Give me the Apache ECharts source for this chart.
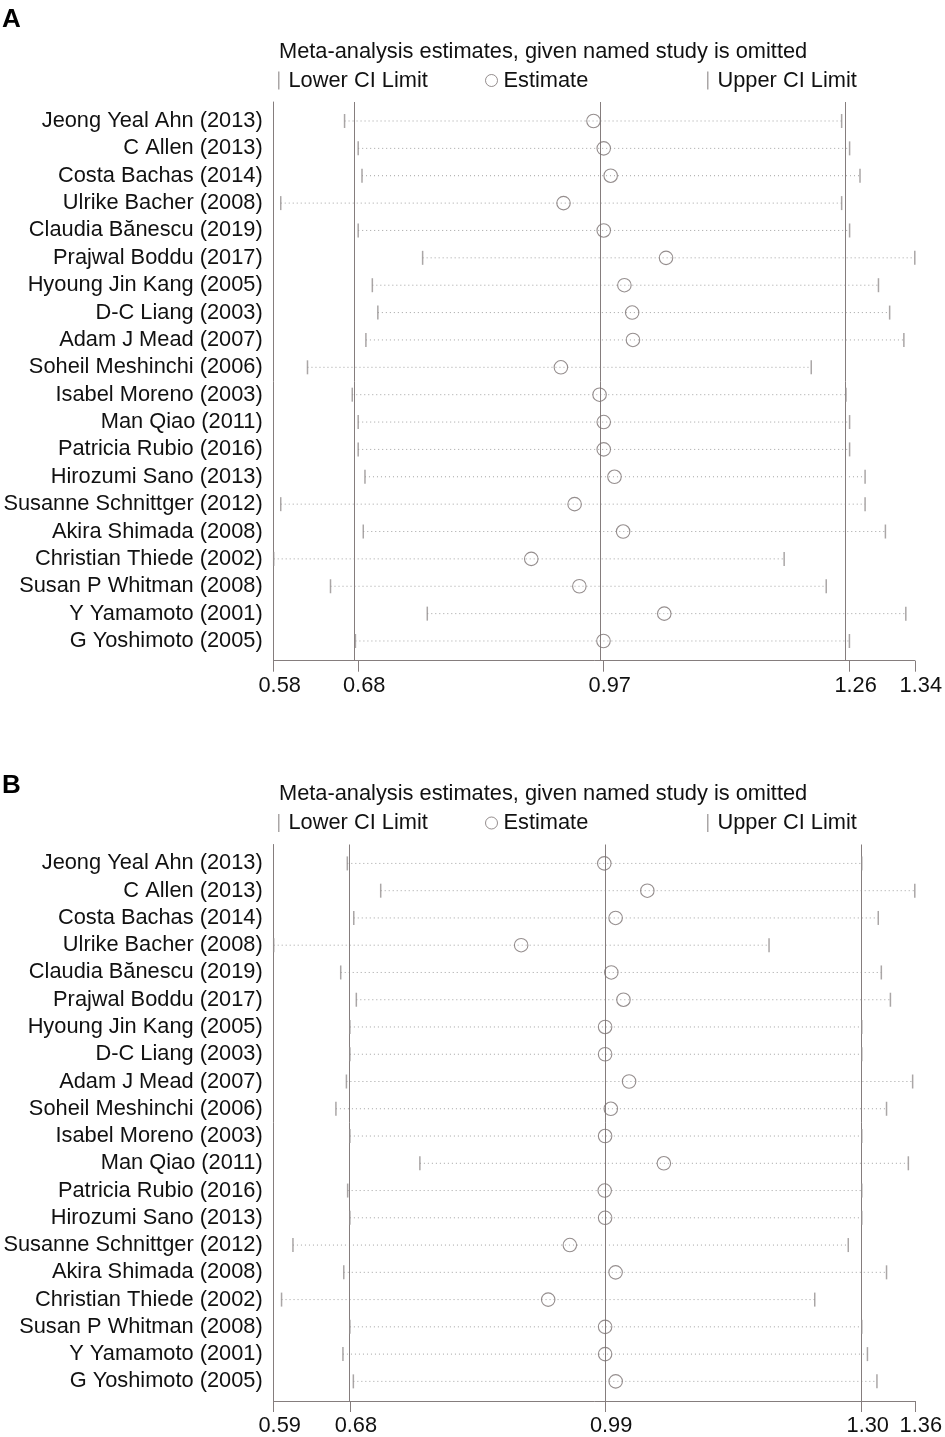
<!DOCTYPE html>
<html>
<head>
<meta charset="utf-8">
<script src="https://cdn.jsdelivr.net/npm/echarts@6/dist/echarts.min.js"></script>
<style>
html,body{margin:0;padding:0;background:#fff;}
#chart{width:945px;height:1437px;}
</style>
</head>
<body>
<div id="chart"></div>
<script>
const studies = [
  'Jeong Yeal Ahn (2013)', 'C Allen (2013)', 'Costa Bachas (2014)', 'Ulrike Bacher (2008)',
  'Claudia Bănescu (2019)', 'Prajwal Boddu (2017)', 'Hyoung Jin Kang (2005)', 'D-C Liang (2003)',
  'Adam J Mead (2007)', 'Soheil Meshinchi (2006)', 'Isabel Moreno (2003)', 'Man Qiao (2011)',
  'Patricia Rubio (2016)', 'Hirozumi Sano (2013)', 'Susanne Schnittger (2012)', 'Akira Shimada (2008)',
  'Christian Thiede (2002)', 'Susan P Whitman (2008)', 'Y Yamamoto (2001)', 'G Yoshimoto (2005)'
];

// Panel A: axis ticks = [min lower CI, pooled lower CI, pooled estimate, pooled upper CI, max upper CI]
const ticksA = [0.5847, 0.6845, 0.9745, 1.2649, 1.3419];
const lowerA = [0.6684, 0.6845, 0.6890, 0.5930, 0.6845, 0.7606, 0.7012, 0.7077, 0.6936, 0.6246,
                0.6775, 0.6845, 0.6845, 0.6925, 0.5930, 0.6905, 0.5847, 0.6518, 0.7661, 0.6812];
const estA   = [0.9624, 0.9745, 0.9827, 0.9270, 0.9745, 1.0481, 0.9989, 1.0081, 1.0090, 0.9239,
                0.9696, 0.9745, 0.9745, 0.9872, 0.9401, 0.9974, 0.8889, 0.9457, 1.0460, 0.9742];
const upperA = [1.2555, 1.2649, 1.2772, 1.2555, 1.2649, 1.3419, 1.2990, 1.3122, 1.3290, 1.2196,
                1.2606, 1.2649, 1.2649, 1.2832, 1.2832, 1.3072, 1.1876, 1.2373, 1.3313, 1.2647];

// Panel B
const ticksB = [0.5889, 0.6811, 0.9900, 1.3006, 1.3648];
const lowerB = [0.6780, 0.7184, 0.6858, 0.5889, 0.6700, 0.6889, 0.6811, 0.6811, 0.6769, 0.6642,
                0.6811, 0.7658, 0.6784, 0.6811, 0.6122, 0.6737, 0.5984, 0.6811, 0.6727, 0.6853];
const estB   = [0.9890, 1.0411, 1.0027, 0.8884, 0.9975, 1.0122, 0.9900, 0.9900, 1.0190, 0.9969,
                0.9900, 1.0611, 0.9895, 0.9900, 0.9473, 1.0027, 0.9211, 0.9900, 0.9900, 1.0028];
const upperB = [1.3006, 1.3648, 1.3206, 1.1884, 1.3243, 1.3353, 1.3006, 1.3006, 1.3622, 1.3306,
                1.3006, 1.3570, 1.3006, 1.3006, 1.2843, 1.3306, 1.2437, 1.3006, 1.3075, 1.3190];

const panelLetters = ['A', 'B'];
const titleText = 'Meta-analysis estimates, given named study is omitted';
const legendNames = ['Lower CI Limit', 'Estimate', 'Upper CI Limit'];

const FONT = '"Liberation Sans", Arial, Helvetica, sans-serif';
const FS = 21.8;
const TEXT = '#111111';
const GRID = '#857d7d';
const TICK = '#959090';
const DOT = '#a2a2a2';
const CIRC = '#7a7272';
const OFF = 742.5;
const LETTER_TOP = [7, 773];

const rows = studies.map((_, i) => i);
const panels = [
  {ticks: ticksA, lower: lowerA, est: estA, upper: upperA},
  {ticks: ticksB, lower: lowerB, est: estB, upper: upperB}
];

const grid = [], xAxis = [], yAxis = [], series = [], title = [], legend = [];

panels.forEach((p, k) => {
  const dy = k * OFF;
  grid.push({left: 273.7, right: 27.7, top: 102 + dy, height: 558.7, containLabel: false});
  xAxis.push({
    type: 'value', gridIndex: k, min: p.ticks[0], max: p.ticks[4], position: 'bottom',
    axisLine: {show: true, onZero: false, lineStyle: {color: GRID, width: 1}},
    axisTick: {show: true, inside: false, length: 11, customValues: p.ticks, lineStyle: {color: GRID}},
    axisLabel: {show: true, customValues: p.ticks, margin: 14, fontSize: FS, fontFamily: FONT, color: TEXT,
                padding: [0, 0, 0, 12],
                formatter: v => v.toFixed(2), hideOverlap: false, showMinLabel: true, showMaxLabel: true},
    splitLine: {show: false}
  });
  yAxis.push({
    type: 'value', gridIndex: k, inverse: true, min: -0.694, max: 19.72,
    axisLine: {show: true, onZero: false, lineStyle: {color: GRID, width: 1}},
    axisTick: {show: false},
    splitLine: {show: false},
    axisLabel: {show: true, customValues: rows, margin: 11, fontSize: FS, fontFamily: FONT, color: TEXT,
                formatter: v => studies[Math.round(v)] || ''}
  });
  series.push({
    type: 'custom', xAxisIndex: k, yAxisIndex: k, silent: true, z: 1,
    data: rows.map(i => [p.lower[i], p.upper[i], i]),
    encode: {x: [0, 1], y: 2},
    renderItem: (params, api) => {
      const a = api.coord([api.value(0), api.value(2)]);
      const b = api.coord([api.value(1), api.value(2)]);
      return {type: 'line', shape: {x1: a[0], y1: a[1], x2: b[0], y2: b[1]},
              style: {stroke: DOT, lineWidth: 1, lineDash: [1, 3]}};
    }
  });
  series.push({
    name: legendNames[0], type: 'scatter', xAxisIndex: k, yAxisIndex: k, z: 3,
    symbol: 'rect', symbolSize: [1.5, 14],
    itemStyle: {color: TICK},
    data: rows.map(i => [p.lower[i], i])
  });
  series.push({
    name: legendNames[2], type: 'scatter', xAxisIndex: k, yAxisIndex: k, z: 3,
    symbol: 'rect', symbolSize: [1.5, 14],
    itemStyle: {color: TICK},
    data: rows.map(i => [p.upper[i], i])
  });
  series.push({
    name: legendNames[1], type: 'scatter', xAxisIndex: k, yAxisIndex: k, z: 4,
    symbol: 'circle', symbolSize: 13.5,
    itemStyle: {color: 'rgba(0,0,0,0)', borderColor: CIRC, borderWidth: 1.1},
    data: rows.map(i => [p.est[i], i]),
    markLine: {
      silent: true, symbol: ['none', 'none'], label: {show: false}, z: 2,
      lineStyle: {type: 'solid', color: GRID, width: 1},
      data: p.ticks.slice(1, 4).map(v => ({xAxis: v}))
    }
  });
  title.push({text: panelLetters[k], left: 2, top: LETTER_TOP[k], padding: 0,
              textStyle: {fontFamily: FONT, fontSize: 26, fontWeight: 'bold', color: '#000'}});
  title.push({text: titleText, left: 279, top: 40.5 + dy, padding: 0,
              textStyle: {fontFamily: FONT, fontSize: FS, fontWeight: 'normal', color: TEXT}});
  const lt = 69.5 + dy;
  legend.push({data: [{name: legendNames[0], icon: 'rect', itemStyle: {color: TICK}}],
               left: 278, top: lt, padding: 0, itemWidth: 1.5, itemHeight: 18, selectedMode: false,
               textStyle: {fontFamily: FONT, fontSize: FS, color: TEXT, padding: [0, 0, 0, 4]}});
  legend.push({data: [{name: legendNames[1], icon: 'circle',
                       itemStyle: {color: 'rgba(0,0,0,0)', borderColor: CIRC, borderWidth: 1}}],
               left: 485, top: lt, padding: 0, itemWidth: 12, itemHeight: 12, selectedMode: false,
               textStyle: {fontFamily: FONT, fontSize: FS, color: TEXT, padding: [0, 0, 0, 1]}});
  legend.push({data: [{name: legendNames[2], icon: 'rect', itemStyle: {color: TICK}}],
               left: 707, top: lt, padding: 0, itemWidth: 1.5, itemHeight: 18, selectedMode: false,
               textStyle: {fontFamily: FONT, fontSize: FS, color: TEXT, padding: [0, 0, 0, 4]}});
});

const chart = echarts.init(document.getElementById('chart'), null, {renderer: 'canvas'});
chart.setOption({
  animation: false,
  backgroundColor: '#ffffff',
  textStyle: {fontFamily: FONT},
  title, legend, grid, xAxis, yAxis, series
});
</script>
</body>
</html>
